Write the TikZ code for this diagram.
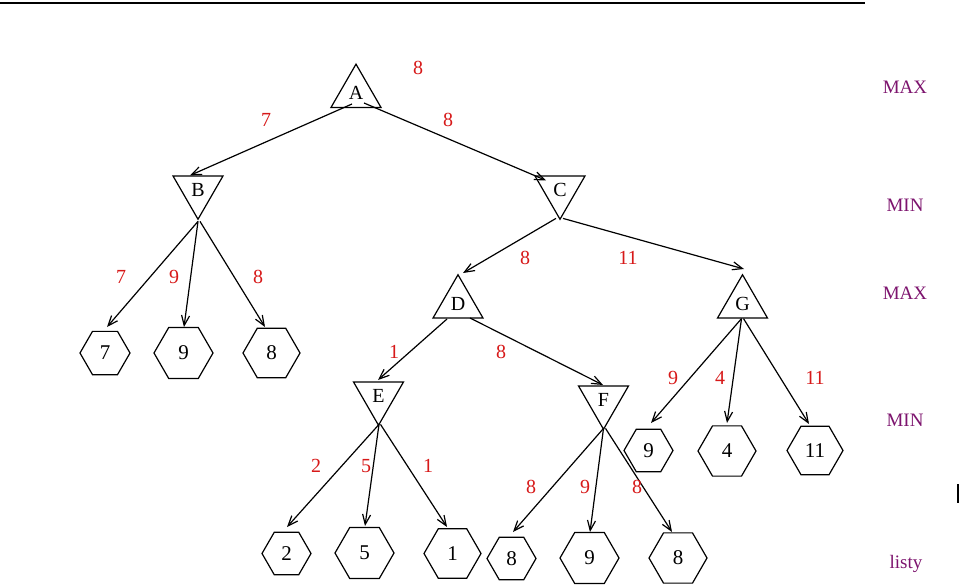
\documentclass[tikz,border=0pt]{standalone}
\usepackage{fontspec}
\setmainfont{Liberation Serif}
\usetikzlibrary{shapes.geometric,arrows.meta,calc}
\definecolor{lblred}{RGB}{215,25,25}
\definecolor{lvlpurple}{RGB}{125,20,110}
\begin{document}
\begin{tikzpicture}[x=1pt,y=-1pt,
  maxnode/.style={draw,regular polygon,regular polygon sides=3,minimum size=57.7pt,inner sep=0pt,line width=1.2pt,font=\fontsize{20}{22}\selectfont},
  minnode/.style={maxnode,shape border rotate=180},
  leaf/.style={draw,regular polygon,regular polygon sides=6,inner sep=0pt,line width=1.2pt,font=\fontsize{21}{23}\selectfont},
  val/.style={text=lblred,inner sep=0pt,font=\fontsize{20}{22}\selectfont},
  lvl/.style={text=lvlpurple,inner sep=0pt,font=\fontsize{19}{22}\selectfont},
  edge/.style={line width=1.2pt,-{Straight Barb[length=10pt,width=8pt]}}]
\useasboundingbox (0,0) rectangle (960,585);
\draw[line width=2.2pt] (0,3) -- (865,3);
\draw[line width=1.2pt] (958,484) -- (958,503);

% game-tree nodes
\node[maxnode] (A) at (356,93) {A};
\node[minnode] (B) at (198,190.4) {B};
\node[minnode] (C) at (560,190.4) {C};
\node[maxnode] (D) at (458,303.6) {D};
\node[maxnode] (G) at (742.5,303.6) {G};
\node[minnode] (E) at (378.5,396.4) {E};
\node[minnode] (F) at (603.5,400.4) {F};

% leaves
\node[leaf,minimum size=50pt] (l1) at (105,353) {7};
\node[leaf,minimum size=59pt] (l2) at (183.5,353) {9};
\node[leaf,minimum size=57pt] (l3) at (271.5,353) {8};
\node[leaf,minimum size=49pt] (l4) at (286.5,553.5) {2};
\node[leaf,minimum size=59pt] (l5) at (364.5,553) {5};
\node[leaf,minimum size=57pt] (l6) at (452.5,553.5) {1};
\node[leaf,minimum size=49pt] (l7) at (511.5,558.5) {8};
\node[leaf,minimum size=59pt] (l8) at (589.5,558) {9};
\node[leaf,minimum size=58pt] (l9) at (678,558) {8};
\node[leaf,minimum size=49pt] (l10) at (648.5,450.5) {9};
\node[leaf,minimum size=58pt] (l11) at (727,451) {4};
\node[leaf,minimum size=56pt] (l12) at (815,450.5) {11};

% edges
\draw[edge] ([shift={(-4,11)}]A.center) -- ([shift={(-8,-15)}]B.center);
\draw[edge] ([shift={(8,10)}]A.center) -- ([shift={(-14,-10)}]C.center);
\draw[edge] ([shift={(0,31)}]B.center) -- ([shift={(2,-26)}]l1.center);
\draw[edge] ([shift={(0,31)}]B.center) -- ([shift={(0.5,-26)}]l2.center);
\draw[edge] ([shift={(2,31)}]B.center) -- ([shift={(-6.5,-26)}]l3.center);
\draw[edge] ([shift={(-4,28)}]C.center) -- ([shift={(5,-30.6)}]D.center);
\draw[edge] ([shift={(3,28)}]C.center) -- ([shift={(1.5,-34.6)}]G.center);
\draw[edge] ([shift={(-11,15.4)}]D.center) -- ([shift={(-0.5,-16.4)}]E.center);
\draw[edge] ([shift={(12,14.4)}]D.center) -- ([shift={(-0.5,-15.4)}]F.center);
\draw[edge] ([shift={(0.5,28)}]E.center) -- ([shift={(0.5,-26.5)}]l4.center);
\draw[edge] ([shift={(0.5,28)}]E.center) -- ([shift={(0.5,-27)}]l5.center);
\draw[edge] ([shift={(2,28)}]E.center) -- ([shift={(-5.5,-26.5)}]l6.center);
\draw[edge] ([shift={(0,28)}]F.center) -- ([shift={(1.5,-26.5)}]l7.center);
\draw[edge] ([shift={(0,28)}]F.center) -- ([shift={(0.5,-26)}]l8.center);
\draw[edge] ([shift={(2,28)}]F.center) -- ([shift={(-6,-26)}]l9.center);
\draw[edge] ([shift={(-1,15)}]G.center) -- ([shift={(2.5,-27.5)}]l10.center);
\draw[edge] ([shift={(-1,15)}]G.center) -- ([shift={(0,-28)}]l11.center);
\draw[edge] ([shift={(1,15)}]G.center) -- ([shift={(-6,-26.5)}]l12.center);

% values
\node[val] (vA) at (418,68) {8};
\node[val] (vAB) at (266,120) {7};
\node[val] (vAC) at (448,120) {8};
\node[val] (vB1) at (121,277) {7};
\node[val] (vB2) at (174,277) {9};
\node[val] (vB3) at (258,277) {8};
\node[val] (vCD) at (525,258) {8};
\node[val] (vCG) at (628,258) {11};
\node[val] (vDE) at (394,352) {1};
\node[val] (vDF) at (501,352) {8};
\node[val] (vG1) at (673,378) {9};
\node[val] (vG2) at (720,378) {4};
\node[val] (vG3) at (815,378) {11};
\node[val] (vE1) at (316,466) {2};
\node[val] (vE2) at (366,466) {5};
\node[val] (vE3) at (428,466) {1};
\node[val] (vF1) at (531,487) {8};
\node[val] (vF2) at (585,487) {9};
\node[val] (vF3) at (637,487) {8};

% level labels
\node[lvl] (m1) at (905,87) {MAX};
\node[lvl] (m2) at (905,205) {MIN};
\node[lvl] (m3) at (905,293) {MAX};
\node[lvl] (m4) at (905,420) {MIN};
\node[lvl,anchor=base] (m5) at (906,568) {listy};
\end{tikzpicture}
\end{document}
